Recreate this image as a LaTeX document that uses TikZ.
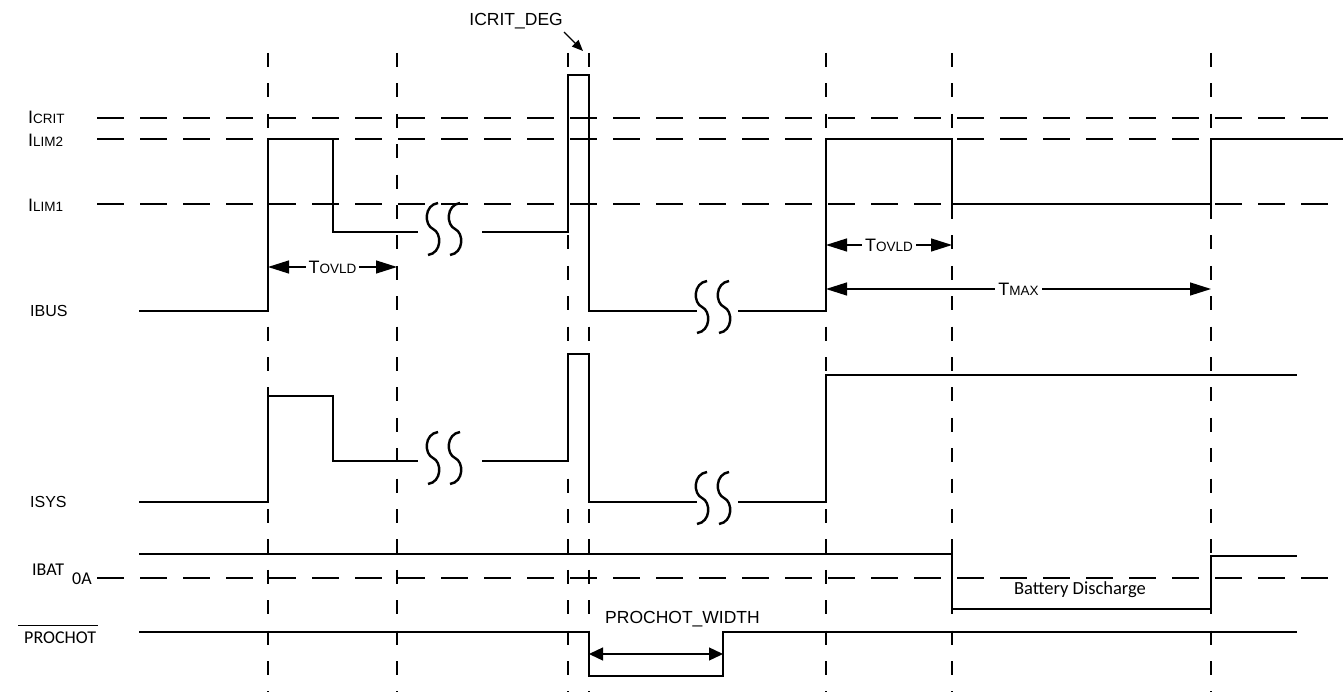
\documentclass[tikz,border=0pt]{standalone}
\usepackage{fontspec}
\setmainfont{Liberation Sans}
\newfontfamily\calfont{Carlito}
\usetikzlibrary{arrows.meta}
\newcommand{\smc}[2]{{\fontsize{18}{18}\selectfont #1}{\fontsize{13.5}{13.5}\selectfont #2}}
\begin{document}
\begin{tikzpicture}[x=1pt,y=-1pt,
  sig/.style={line width=2.6pt, line join=miter},
  hdash/.style={line width=1.3pt, dash pattern=on 27pt off 16pt},
  vdash/.style={line width=1.3pt, dash pattern=on 14pt off 16.4pt},
  dimarrow/.style={line width=1.3pt, {Triangle[length=21pt,width=13pt]}-{Triangle[length=21pt,width=13pt]}},
  smallarrow/.style={line width=1.3pt, {Triangle[length=14pt,width=13pt]}-{Triangle[length=14pt,width=13pt]}},
  lbl/.style={anchor=west, inner sep=0pt},
  txt/.style={inner sep=0pt, font=\fontsize{17.5}{17.5}\selectfont},
  brk/.pic={\draw[line width=2.4pt] (5,-26) .. controls (-9,-24) and (-9,-4) .. (0,0) .. controls (9,4) and (9,24) .. (-5,26);}
]
\useasboundingbox (0,0) rectangle (1343,692);

% vertical dashed time markers
\foreach \x in {268,397,568,589,826,952,1211}
  \draw[vdash] (\x,53) -- (\x,692);

% horizontal level lines
\draw[hdash] (97,118) -- (1343,118);
\draw[hdash] (97,139) -- (1343,139);
\draw[hdash] (97,204) -- (1343,204);
\draw[hdash] (97,578) -- (1343,578);

% level labels
\node[lbl] (icrit) at (28,117) {\smc{I}{CRIT}};
\node[lbl] (ilim2) at (28,140) {\smc{I}{LIM2}};
\node[lbl] (ilim1) at (28,205) {\smc{I}{LIM1}};
\node[lbl] (ibus) at (30,311) {\fontsize{16}{16}\selectfont IBUS};
\node[lbl] (isys) at (30,502) {\fontsize{16}{16}\selectfont ISYS};
\node[lbl] (ibat) at (32,570) {\calfont\fontsize{18}{18}\selectfont IBAT};
\node[lbl] (zeroA) at (72,579) {\calfont\fontsize{18}{18}\selectfont 0A};
\node[lbl] (proc) at (24,638) {\calfont\fontsize{18}{18}\selectfont PROCHOT};
\draw[line width=1pt] (18,625) -- (98,625);

% IBUS
\draw[sig] (139,311) -- (268,311) -- (268,139) -- (333,139) -- (333,232) -- (418,232);
\draw[sig] (482,232) -- (568,232) -- (568,75) -- (589,75) -- (589,311) -- (697,311);
\draw[sig] (738,311) -- (826,311) -- (826,139) -- (952,139) -- (952,204) -- (1211,204) -- (1211,139) -- (1343,139);
\pic at (433,229) {brk};
\pic at (455,229) {brk};
\pic at (702,307) {brk};
\pic at (724,307) {brk};

% ISYS
\draw[sig] (139,502) -- (268,502) -- (268,396) -- (333,396) -- (333,461) -- (418,461);
\draw[sig] (482,461) -- (568,461) -- (568,354) -- (589,354) -- (589,502) -- (697,502);
\draw[sig] (738,502) -- (826,502) -- (826,375) -- (1297,375);
\pic at (433,458) {brk};
\pic at (455,458) {brk};
\pic at (702,498) {brk};
\pic at (724,498) {brk};

% IBAT
\draw[sig] (139,554) -- (952,554) -- (952,609) -- (1211,609) -- (1211,556) -- (1297,556);
\node[inner sep=0pt] (bd) at (1080,590) {\calfont\fontsize{18.5}{18.5}\selectfont Battery Discharge};

% PROCHOT
\draw[sig] (139,632) -- (589,632) -- (589,676) -- (723,676) -- (723,632) -- (1297,632);

% dimension arrows
\coordinate (t1a) at (268,267); \coordinate (t1b) at (397,267);
\draw[dimarrow] (t1a) -- node[fill=white, inner sep=3pt] (tovld1) {\smc{T}{OVLD}} (t1b);
\coordinate (t2a) at (826,245); \coordinate (t2b) at (952,245);
\draw[dimarrow] (t2a) -- node[fill=white, inner sep=3pt] (tovld2) {\smc{T}{OVLD}} (t2b);
\coordinate (tma) at (826,289); \coordinate (tmb) at (1211,289);
\draw[dimarrow] (tma) -- node[fill=white, inner sep=3pt] (tmax) {\smc{T}{MAX}} (tmb);
\coordinate (pwa) at (589,654); \coordinate (pwb) at (723,654);
\draw[smallarrow] (pwa) -- (pwb);
\node[txt, anchor=west] (pw) at (605,619) {PROCHOT\_WIDTH};

% ICRIT_DEG
\node[txt, anchor=east] (deg) at (563,21) {ICRIT\_DEG};
\coordinate (dega) at (564,32); \coordinate (degb) at (583,51);
\draw[line width=1.3pt, -{Triangle[length=11pt,width=9pt]}] (dega) -- (degb);
\end{tikzpicture}
\end{document}
